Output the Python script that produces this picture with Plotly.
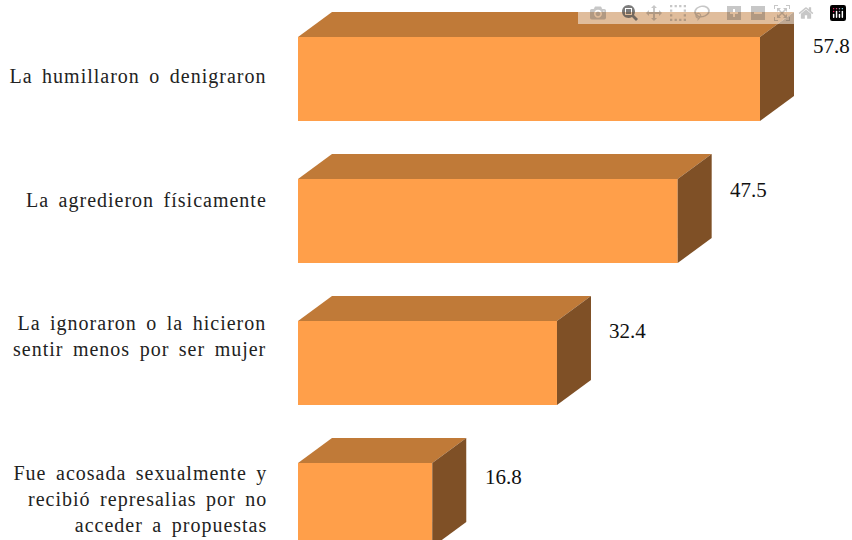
import plotly.graph_objects as go

categories = [
    "La humillaron o denigraron",
    "La agredieron físicamente",
    "La ignoraron o la hicieron<br>sentir menos por ser mujer",
    "Fue acosada sexualmente y<br>recibió represalias por no<br>acceder a propuestas",
]
values = [57.8, 47.5, 32.4, 16.8]

W, H = 852, 540
LEFT = 298
PX_PER_X = 7.993
PX_PER_Y = 142
TOP_CENTER = 79
BAR_PX = 84
DX_PX, DY_PX = 34, 25
LABEL_SHIFT = [3, 21, 27, 6]
VALUE_SHIFT = [33, 31, 32, 28]
VALUE_GAP = 50.5

FRONT, TOPC, SIDE = "#FF9F4A", "#C07A38", "#7F5026"
dx = DX_PX / PX_PER_X
dy = DY_PX / PX_PER_Y
hw = BAR_PX / PX_PER_Y / 2

fig = go.Figure()
ypos = list(range(len(values)))
fig.add_trace(go.Bar(x=values, y=ypos, orientation="h", width=BAR_PX / PX_PER_Y,
                     marker=dict(color=FRONT, line=dict(width=0)), hoverinfo="x"))
for v, y in zip(values, ypos):
    t = y - hw
    b = y + hw
    fig.add_trace(go.Scatter(x=[0, v, v + dx, dx, 0], y=[t, t, t - dy, t - dy, t], mode="lines",
                             fill="toself", fillcolor=TOPC, line=dict(width=0), hoverinfo="skip"))
    fig.add_trace(go.Scatter(x=[v, v + dx, v + dx, v, v], y=[t, t - dy, b - dy, b, t], mode="lines",
                             fill="toself", fillcolor=SIDE, line=dict(width=0), hoverinfo="skip"))

for c, v, y, ls, vs in zip(categories, values, ypos, LABEL_SHIFT, VALUE_SHIFT):
    fig.add_annotation(x=0, y=y, xref="x", yref="y", text=c, showarrow=False,
                       xanchor="right", yanchor="middle", align="right", xshift=-29, yshift=ls,
                       font=dict(family="Liberation Serif", size=20, color="#222222"))
    fig.add_annotation(x=v, y=y, xref="x", yref="y", text=f"{v:.1f}", showarrow=False,
                       xanchor="left", yanchor="middle", xshift=VALUE_GAP, yshift=vs,
                       font=dict(family="Liberation Serif", size=21, color="#111111"))

fig.update_layout(
    width=W, height=H, margin=dict(l=LEFT, r=0, t=0, b=0), showlegend=False,
    paper_bgcolor="white", plot_bgcolor="white",
    xaxis=dict(range=[0, (W - LEFT) / PX_PER_X], visible=False),
    yaxis=dict(range=[(H - TOP_CENTER) / PX_PER_Y, -TOP_CENTER / PX_PER_Y], visible=False),
)
css = """
document.body.style.margin='0';
document.body.style.overflow='hidden';
document.querySelectorAll('.annotation-text').forEach(function(t){
  if(t.textContent.length>6){t.style.letterSpacing='1px';t.style.wordSpacing='3.5px';}
});
"""
fig.write_html("out.html", post_script=css)
